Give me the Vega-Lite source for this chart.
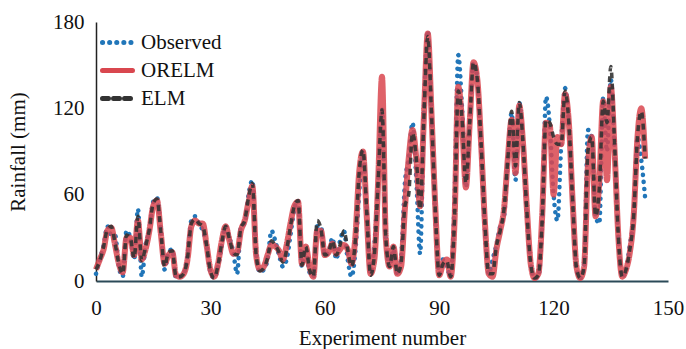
{
  "$schema": "https://vega.github.io/schema/vega-lite/v6.json",
  "width": 572,
  "height": 259,
  "autosize": "none",
  "padding": {"left": 96, "top": 22, "right": 18, "bottom": 68},
  "background": "white",
  "config": {"view": {"stroke": null}, "font": "Liberation Serif",
    "axis": {"labelFont": "Liberation Serif", "titleFont": "Liberation Serif"},
    "legend": {"labelFont": "Liberation Serif"}},
  "data": {"values": [
    {"n":0,"Observed":5,"ORELM":8,"ELM":8},
    {"n":1,"Observed":15,"ORELM":15,"ELM":14},
    {"n":2,"Observed":25,"ORELM":22,"ELM":24},
    {"n":3,"Observed":38,"ORELM":35,"ELM":36},
    {"n":4,"Observed":32,"ORELM":37,"ELM":38},
    {"n":5,"Observed":32,"ORELM":25,"ELM":26},
    {"n":6,"Observed":10,"ORELM":12,"ELM":12},
    {"n":7,"Observed":3,"ORELM":6,"ELM":5},
    {"n":8,"Observed":35,"ORELM":30,"ELM":32},
    {"n":9,"Observed":30,"ORELM":30,"ELM":30},
    {"n":10,"Observed":15,"ORELM":18,"ELM":16},
    {"n":11,"Observed":50,"ORELM":42,"ELM":45},
    {"n":12,"Observed":3,"ORELM":15,"ELM":14},
    {"n":13,"Observed":25,"ORELM":22,"ELM":24},
    {"n":14,"Observed":35,"ORELM":35,"ELM":36},
    {"n":15,"Observed":55,"ORELM":52,"ELM":54},
    {"n":16,"Observed":58,"ORELM":56,"ELM":57},
    {"n":17,"Observed":35,"ORELM":33,"ELM":34},
    {"n":18,"Observed":8,"ORELM":12,"ELM":10},
    {"n":19,"Observed":20,"ORELM":18,"ELM":20},
    {"n":20,"Observed":22,"ORELM":20,"ELM":21},
    {"n":21,"Observed":2,"ORELM":4,"ELM":3},
    {"n":22,"Observed":3,"ORELM":3,"ELM":3},
    {"n":23,"Observed":5,"ORELM":5,"ELM":5},
    {"n":24,"Observed":18,"ORELM":15,"ELM":16},
    {"n":25,"Observed":42,"ORELM":38,"ELM":40},
    {"n":26,"Observed":45,"ORELM":42,"ELM":43},
    {"n":27,"Observed":40,"ORELM":40,"ELM":40},
    {"n":28,"Observed":35,"ORELM":40,"ELM":38},
    {"n":29,"Observed":25,"ORELM":25,"ELM":25},
    {"n":30,"Observed":6,"ORELM":8,"ELM":7},
    {"n":31,"Observed":2,"ORELM":3,"ELM":2},
    {"n":32,"Observed":10,"ORELM":12,"ELM":11},
    {"n":33,"Observed":25,"ORELM":28,"ELM":27},
    {"n":34,"Observed":38,"ORELM":38,"ELM":38},
    {"n":35,"Observed":30,"ORELM":28,"ELM":29},
    {"n":36,"Observed":20,"ORELM":19,"ELM":20},
    {"n":37,"Observed":5,"ORELM":20,"ELM":18},
    {"n":38,"Observed":38,"ORELM":35,"ELM":37},
    {"n":39,"Observed":40,"ORELM":42,"ELM":42},
    {"n":40,"Observed":60,"ORELM":55,"ELM":58},
    {"n":41,"Observed":70,"ORELM":66,"ELM":68},
    {"n":42,"Observed":20,"ORELM":18,"ELM":18},
    {"n":43,"Observed":6,"ORELM":8,"ELM":7},
    {"n":44,"Observed":8,"ORELM":10,"ELM":9},
    {"n":45,"Observed":15,"ORELM":18,"ELM":16},
    {"n":46,"Observed":35,"ORELM":25,"ELM":28},
    {"n":47,"Observed":28,"ORELM":24,"ELM":25},
    {"n":48,"Observed":18,"ORELM":21,"ELM":20},
    {"n":49,"Observed":10,"ORELM":15,"ELM":13},
    {"n":50,"Observed":15,"ORELM":25,"ELM":22},
    {"n":51,"Observed":32,"ORELM":40,"ELM":38},
    {"n":52,"Observed":50,"ORELM":52,"ELM":52},
    {"n":53,"Observed":56,"ORELM":55,"ELM":56},
    {"n":54,"Observed":10,"ORELM":12,"ELM":11},
    {"n":55,"Observed":22,"ORELM":24,"ELM":24},
    {"n":56,"Observed":6,"ORELM":10,"ELM":8},
    {"n":57,"Observed":3,"ORELM":3,"ELM":3},
    {"n":58,"Observed":38,"ORELM":35,"ELM":42},
    {"n":59,"Observed":38,"ORELM":35,"ELM":36},
    {"n":60,"Observed":18,"ORELM":18,"ELM":18},
    {"n":61,"Observed":20,"ORELM":20,"ELM":20},
    {"n":62,"Observed":30,"ORELM":26,"ELM":28},
    {"n":63,"Observed":15,"ORELM":19,"ELM":18},
    {"n":64,"Observed":28,"ORELM":22,"ELM":25},
    {"n":65,"Observed":35,"ORELM":25,"ELM":35},
    {"n":66,"Observed":15,"ORELM":22,"ELM":22},
    {"n":67,"Observed":3,"ORELM":12,"ELM":10},
    {"n":68,"Observed":20,"ORELM":30,"ELM":28},
    {"n":69,"Observed":60,"ORELM":75,"ELM":75},
    {"n":70,"Observed":90,"ORELM":90,"ELM":91},
    {"n":71,"Observed":50,"ORELM":45,"ELM":48},
    {"n":72,"Observed":5,"ORELM":5,"ELM":4},
    {"n":73,"Observed":25,"ORELM":15,"ELM":18},
    {"n":74,"Observed":70,"ORELM":70,"ELM":70},
    {"n":75,"Observed":120,"ORELM":142,"ELM":119},
    {"n":76,"Observed":30,"ORELM":30,"ELM":30},
    {"n":77,"Observed":10,"ORELM":10,"ELM":10},
    {"n":78,"Observed":22,"ORELM":24,"ELM":24},
    {"n":79,"Observed":5,"ORELM":5,"ELM":5},
    {"n":80,"Observed":15,"ORELM":10,"ELM":12},
    {"n":81,"Observed":68,"ORELM":50,"ELM":52},
    {"n":82,"Observed":85,"ORELM":85,"ELM":60},
    {"n":83,"Observed":110,"ORELM":105,"ELM":103},
    {"n":84,"Observed":70,"ORELM":85,"ELM":85},
    {"n":85,"Observed":19,"ORELM":52,"ELM":50},
    {"n":86,"Observed":120,"ORELM":115,"ELM":115},
    {"n":87,"Observed":174,"ORELM":172,"ELM":170},
    {"n":88,"Observed":115,"ORELM":115,"ELM":115},
    {"n":89,"Observed":45,"ORELM":50,"ELM":48},
    {"n":90,"Observed":5,"ORELM":4,"ELM":4},
    {"n":91,"Observed":15,"ORELM":12,"ELM":12},
    {"n":92,"Observed":10,"ORELM":15,"ELM":14},
    {"n":93,"Observed":3,"ORELM":3,"ELM":3},
    {"n":94,"Observed":55,"ORELM":40,"ELM":42},
    {"n":95,"Observed":157,"ORELM":135,"ELM":132},
    {"n":96,"Observed":120,"ORELM":110,"ELM":112},
    {"n":97,"Observed":65,"ORELM":65,"ELM":68},
    {"n":98,"Observed":110,"ORELM":110,"ELM":110},
    {"n":99,"Observed":152,"ORELM":152,"ELM":152},
    {"n":100,"Observed":140,"ORELM":140,"ELM":140},
    {"n":101,"Observed":90,"ORELM":95,"ELM":95},
    {"n":102,"Observed":35,"ORELM":40,"ELM":40},
    {"n":103,"Observed":5,"ORELM":5,"ELM":5},
    {"n":104,"Observed":15,"ORELM":3,"ELM":5},
    {"n":105,"Observed":25,"ORELM":22,"ELM":24},
    {"n":106,"Observed":38,"ORELM":35,"ELM":35},
    {"n":107,"Observed":45,"ORELM":50,"ELM":50},
    {"n":108,"Observed":85,"ORELM":85,"ELM":85},
    {"n":109,"Observed":117,"ORELM":112,"ELM":118},
    {"n":110,"Observed":70,"ORELM":75,"ELM":80},
    {"n":111,"Observed":124,"ORELM":122,"ELM":124},
    {"n":112,"Observed":95,"ORELM":95,"ELM":95},
    {"n":113,"Observed":45,"ORELM":50,"ELM":48},
    {"n":114,"Observed":12,"ORELM":12,"ELM":12},
    {"n":115,"Observed":2,"ORELM":2,"ELM":2},
    {"n":116,"Observed":3,"ORELM":5,"ELM":4},
    {"n":117,"Observed":40,"ORELM":45,"ELM":42},
    {"n":118,"Observed":128,"ORELM":110,"ELM":112},
    {"n":119,"Observed":108,"ORELM":108,"ELM":110},
    {"n":120,"Observed":60,"ORELM":60,"ELM":100},
    {"n":121,"Observed":42,"ORELM":100,"ELM":95},
    {"n":122,"Observed":95,"ORELM":95,"ELM":95},
    {"n":123,"Observed":134,"ORELM":130,"ELM":132},
    {"n":124,"Observed":110,"ORELM":110,"ELM":110},
    {"n":125,"Observed":55,"ORELM":55,"ELM":55},
    {"n":126,"Observed":8,"ORELM":10,"ELM":9},
    {"n":127,"Observed":2,"ORELM":2,"ELM":2},
    {"n":128,"Observed":10,"ORELM":10,"ELM":10},
    {"n":129,"Observed":105,"ORELM":80,"ELM":90},
    {"n":130,"Observed":100,"ORELM":100,"ELM":100},
    {"n":131,"Observed":45,"ORELM":45,"ELM":45},
    {"n":132,"Observed":40,"ORELM":70,"ELM":65},
    {"n":133,"Observed":127,"ORELM":125,"ELM":125},
    {"n":134,"Observed":90,"ORELM":70,"ELM":110},
    {"n":135,"Observed":140,"ORELM":135,"ELM":149},
    {"n":136,"Observed":90,"ORELM":90,"ELM":95},
    {"n":137,"Observed":30,"ORELM":30,"ELM":30},
    {"n":138,"Observed":3,"ORELM":3,"ELM":3},
    {"n":139,"Observed":8,"ORELM":8,"ELM":8},
    {"n":140,"Observed":25,"ORELM":20,"ELM":22},
    {"n":141,"Observed":45,"ORELM":45,"ELM":45},
    {"n":142,"Observed":100,"ORELM":100,"ELM":100},
    {"n":143,"Observed":84,"ORELM":120,"ELM":118},
    {"n":144,"Observed":58,"ORELM":85,"ELM":85}
  ]},
  "transform": [{"fold": ["Observed", "ORELM", "ELM"], "as": ["series", "value"]}],
  "encoding": {
    "x": {"field": "n", "type": "quantitative",
      "scale": {"domain": [0, 150], "nice": false, "zero": false},
      "axis": {"values": [0, 30, 60, 90, 120, 150], "title": "Experiment number", "grid": false, "ticks": false,
        "labelFont": "Liberation Serif", "labelFontSize": 21, "labelColor": "#111", "labelPadding": 16,
        "titleFont": "Liberation Serif", "titleFontSize": 21, "titleFontWeight": "normal", "titleColor": "#111", "titlePadding": 9,
        "domainColor": "#2b4a58", "domainWidth": 2, "labelFlush": false}},
    "y": {"field": "value", "type": "quantitative",
      "scale": {"domain": [0, 180], "nice": false},
      "axis": {"values": [0, 60, 120, 180], "title": "Rainfall (mm)", "grid": false, "ticks": false,
        "labelFont": "Liberation Serif", "labelFontSize": 21, "labelColor": "#111", "labelPadding": 12,
        "titleFont": "Liberation Serif", "titleFontSize": 21, "titleFontWeight": "normal", "titleColor": "#111", "titlePadding": 24,
        "domainColor": "#222", "domainWidth": 1.5}},
    "color": {"field": "series", "type": "nominal",
      "scale": {"domain": ["Observed", "ORELM", "ELM"], "range": ["#2176b9", "#d9474f", "#333333"]},
      "legend": {"orient": "none", "legendX": 4, "legendY": 3, "title": null,
        "symbolType": "stroke", "symbolSize": 900, "symbolStrokeWidth": 5,
        "labelFont": "Liberation Serif", "labelFontSize": 21, "labelColor": "#111", "labelOffset": 6,
        "rowPadding": -3,
        "encode": {"symbols": {"update": {"strokeCap": {"value": "round"}}}}}},
    "strokeDash": {"field": "series", "type": "nominal",
      "scale": {"domain": ["Observed", "ORELM", "ELM"], "range": [[0.1, 7], [1, 0], [6, 5]]}}
  },
  "layer": [
    {"transform": [{"filter": {"field": "series", "equal": "Observed"}}],
     "mark": {"type": "line", "interpolate": "monotone", "strokeWidth": 4.5, "strokeCap": "round"}},
    {"transform": [{"filter": {"field": "series", "equal": "ORELM"}}],
     "mark": {"type": "line", "interpolate": "monotone", "strokeWidth": 6, "opacity": 0.85}},
    {"transform": [{"filter": {"field": "series", "equal": "ELM"}}],
     "mark": {"type": "line", "interpolate": "monotone", "strokeWidth": 3.5, "opacity": 0.9}}
  ]
}
